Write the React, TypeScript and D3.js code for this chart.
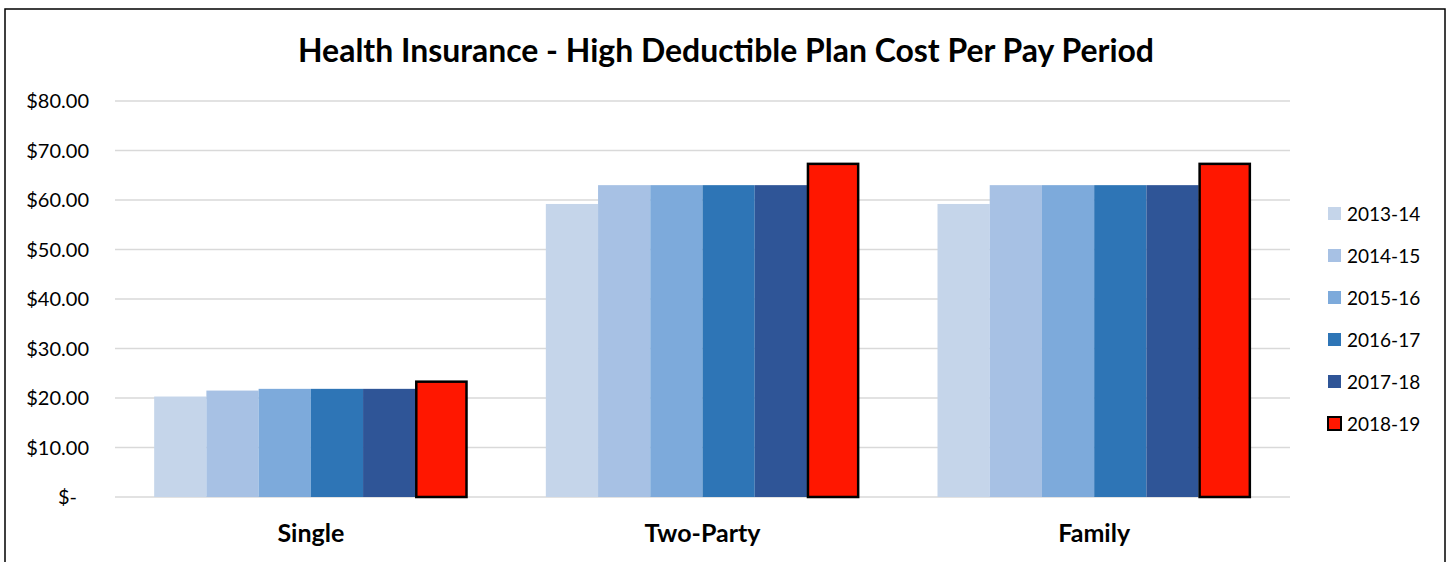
import React from "react";
import * as d3 from "d3";

const categories = ["Single", "Two-Party", "Family"];
const seriesNames = ["2013-14", "2014-15", "2015-16", "2016-17", "2017-18", "2018-19"];
const seriesColors = ["#C5D5EA", "#A7C1E4", "#7DAADB", "#2E75B6", "#2F5597", "#FF1700"];
const singleValues = [20.3, 21.5, 21.85, 21.85, 21.85, 23.3];
const twoPartyValues = [59.2, 63.0, 63.0, 63.0, 63.0, 67.3];
const familyValues = [59.2, 63.0, 63.0, 63.0, 63.0, 67.3];
const yTicks = [0, 10, 20, 30, 40, 50, 60, 70, 80];

const values = [singleValues, twoPartyValues, familyValues];
const FONT = "Lato, 'Open Sans', sans-serif";

export default function App() {
  const W = 1451, H = 562;
  const left = 115, right = 1290, top = 101, bottom = 497;
  const x0 = d3.scaleBand().domain(categories).range([left, right]).paddingInner(0.2).paddingOuter(0.1);
  const x1 = d3.scaleBand().domain(seriesNames).range([0, x0.bandwidth()]);
  const y = d3.scaleLinear().domain([0, 80]).range([bottom, top]);
  const fmt = (v: number) => (v === 0 ? "$-" : "$" + d3.format(".2f")(v));

  return (
    <svg width={W} height={H} style={{ position: "absolute", left: 0, top: 0, background: "#fff" }}>
      <rect x={5} y={9} width={1440} height={H} fill="#fff" stroke="#000" strokeWidth={1.5} />
      <text x={726} y={62} textAnchor="middle" fontFamily={FONT} fontWeight="bold" fontSize={31.5} fill="#000"
        textLength={856} lengthAdjust="spacingAndGlyphs">
        Health Insurance - High Deductible Plan Cost Per Pay Period
      </text>
      {yTicks.map((t) => (
        <g key={t}>
          <line x1={left} x2={right} y1={y(t)} y2={y(t)} stroke="#D9D9D9" strokeWidth={1.5} />
          <text
            x={t === 0 ? 77 : 89}
            y={y(t) + 7}
            textAnchor="end"
            fontFamily={FONT}
            fontSize={20}
            fill="#000"
          >
            {fmt(t)}
          </text>
        </g>
      ))}
      {categories.map((c, ci) => (
        <g key={c}>
          {seriesNames.map((s, si) => {
            const v = values[ci][si];
            const isLast = si === seriesNames.length - 1;
            const bx = (x0(c) as number) + (x1(s) as number);
            return (
              <rect
                key={s}
                x={isLast ? bx + 1 : bx}
                y={y(v)}
                width={isLast ? x1.bandwidth() - 2 : x1.bandwidth()}
                height={bottom - y(v)}
                fill={seriesColors[si]}
                stroke={isLast ? "#000" : "none"}
                strokeWidth={isLast ? 2.5 : 0}
              />
            );
          })}
          <text
            x={(x0(c) as number) + x0.bandwidth() / 2}
            y={542}
            textAnchor="middle"
            fontFamily={FONT}
            fontWeight="bold"
            fontSize={25}
            fill="#000"
          >
            {c}
          </text>
        </g>
      ))}
      {seriesNames.map((s, si) => {
        const ly = 214 + si * 42;
        const isLast = si === seriesNames.length - 1;
        return (
          <g key={s}>
            <rect
              x={1328}
              y={ly - 7}
              width={13}
              height={13}
              fill={seriesColors[si]}
              stroke={isLast ? "#000" : "none"}
              strokeWidth={isLast ? 2 : 0}
            />
            <text x={1347} y={ly + 7} fontFamily={FONT} fontSize={19} fill="#000">
              {s}
            </text>
          </g>
        );
      })}
    </svg>
  );
}
